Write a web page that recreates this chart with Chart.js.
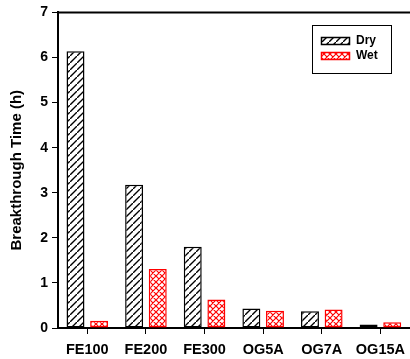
<!DOCTYPE html>
<html><head><meta charset="utf-8">
<script src="https://cdn.jsdelivr.net/npm/chart.js@4"></script>
<style>html,body{margin:0;padding:0;background:#fff;overflow:hidden}#wrap{width:410px;height:359px;overflow:hidden}#c{display:block}</style>
</head><body><div id="wrap"><div style="width:412px;height:359px"><canvas id="c" width="412" height="359"></canvas></div></div>
<script>
const categories = ["FE100","FE200","FE300","OG5A","OG7A","OG15A"];
const dryValues = [6.14, 3.18, 1.80, 0.43, 0.37, 0.08];
const wetValues = [0.16, 1.31, 0.63, 0.38, 0.41, 0.13];
const seriesNames = ["Dry","Wet"];
const yTicks = [0,1,2,3,4,5,6,7];

function hatch(){
  const P=7;
  const t=document.createElement('canvas');t.width=P;t.height=P;const g=t.getContext('2d');
  g.fillStyle='#fff';g.fillRect(0,0,P,P);
  g.strokeStyle='#000';g.lineWidth=1.4;
  g.beginPath();g.moveTo(-1,P+1);g.lineTo(P+1,-1);g.moveTo(-P-1,1);g.lineTo(1,-P-1);g.moveTo(P-1,2*P+1);g.lineTo(2*P+1,P-1);g.stroke();
  return g.createPattern(t,'repeat');
}
function cross(){
  const P=6;
  const t=document.createElement('canvas');t.width=P;t.height=P;const g=t.getContext('2d');
  g.fillStyle='#fff';g.fillRect(0,0,P,P);
  g.strokeStyle='#f00';g.lineWidth=1.2;
  g.beginPath();
  for(let k=-1;k<=1;k++){
    g.moveTo(-1+k*P,P+1);g.lineTo(P+1+k*P,-1);
    g.moveTo(-1+k*P,-1);g.lineTo(P+1+k*P,P+1);
  }
  g.stroke();
  return g.createPattern(t,'repeat');
}
const FONT='Liberation Sans, Arial, sans-serif';
const pats=[hatch(),cross()];
const borders=['#000','#f00'];

const frame={id:'frame',afterDraw(ch){
  const c=ch.ctx,a=ch.chartArea;
  c.save();c.strokeStyle='#000';c.lineWidth=2;
  c.beginPath();c.moveTo(a.left,a.top);c.lineTo(a.right+2,a.top);c.stroke();
  // legend
  c.lineWidth=1;c.strokeRect(312.5,25.5,79,48);
  const sy=[37,52];
  for(let i=0;i<2;i++){
    c.fillStyle=pats[i];c.fillRect(321,sy[i],29,7);
    c.strokeStyle=borders[i];c.lineWidth=1.5;c.strokeRect(321.5,sy[i]+0.5,28,7);
    c.fillStyle='#000';c.font='bold 12px '+FONT;c.textBaseline='middle';c.textAlign='left';
    c.fillText(seriesNames[i],356,sy[i]+4);
  }
  c.restore();
}};

new Chart(document.getElementById('c'),{
  type:'bar',
  data:{labels:categories,datasets:[
    {label:seriesNames[0],data:dryValues,backgroundColor:pats[0],borderColor:borders[0],borderWidth:1.5,borderSkipped:false},
    {label:seriesNames[1],data:wetValues,backgroundColor:pats[1],borderColor:borders[1],borderWidth:1.5,borderSkipped:false}
  ]},
  options:{
    responsive:false,animation:false,
    layout:{padding:{top:11,right:0,left:0,bottom:0}},
    categoryPercentage:0.806,barPercentage:0.76,
    plugins:{legend:{display:false},tooltip:{enabled:false}},
    scales:{
      x:{offset:true,
        grid:{display:true,drawOnChartArea:false,drawTicks:true,tickLength:6,tickColor:'#000',offset:false},
        border:{display:true,color:'#000',width:2},
        ticks:{color:'#000',font:{family:FONT,size:14.5,weight:'bold'},padding:7,maxRotation:0,autoSkip:false},
        afterFit(s){s.height=31;}
      },
      y:{min:0,max:7,
        afterBuildTicks(s){s.ticks=yTicks.map(v=>({value:v}));},
        grid:{display:true,drawOnChartArea:false,drawTicks:true,tickLength:6,tickColor:'#000'},
        border:{display:true,color:'#000',width:2},
        ticks:{color:'#000',font:{family:FONT,size:14,weight:'bold'},padding:4},
        title:{display:true,text:'Breakthrough Time (h)',color:'#000',font:{family:FONT,size:15,weight:'bold'},padding:{top:8,bottom:0}},
        afterFit(s){s.width=58;}
      }
    }
  },
  plugins:[frame]
});
</script></body></html>
